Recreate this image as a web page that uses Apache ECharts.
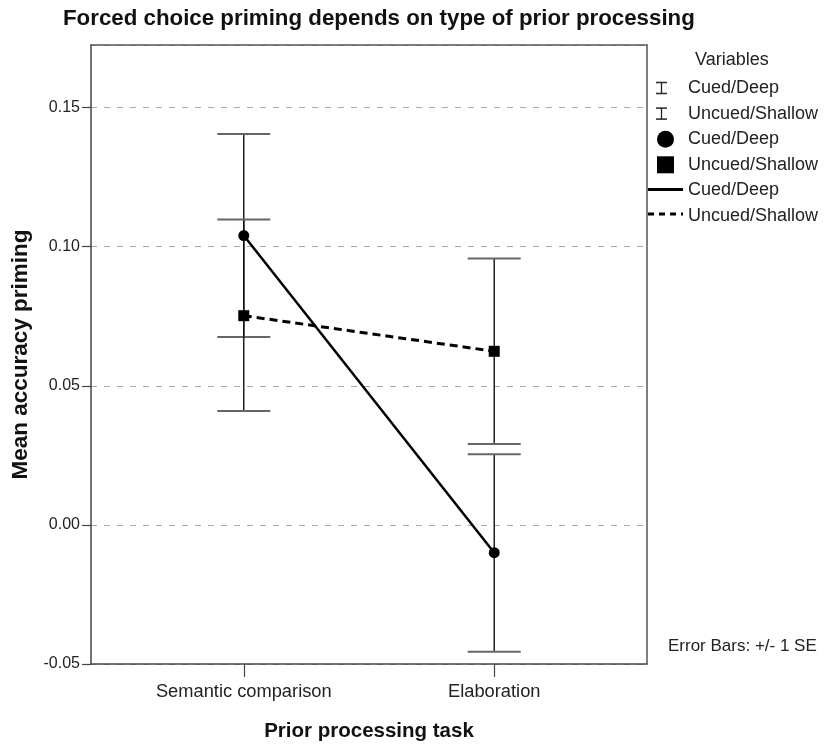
<!DOCTYPE html>
<html>
<head>
<meta charset="utf-8">
<script src="https://cdn.jsdelivr.net/npm/echarts@6/dist/echarts.min.js"></script>
<style>
html,body{margin:0;padding:0;background:#fff;}
#chart{width:830px;height:747px;}
</style>
</head>
<body>
<div id="chart"></div>
<script>
const categories = ['Semantic comparison', 'Elaboration'];
const cuedMean = [0.1040, -0.0100];
const cuedLower = [0.0675, -0.0456];
const cuedUpper = [0.1405, 0.0254];
const uncuedMean = [0.0752, 0.0624];
const uncuedLower = [0.0409, 0.0291];
const uncuedUpper = [0.1098, 0.0958];
const yTickLabels = ['-0.05', '0.00', '0.05', '0.10', '0.15'];
const legendTitle = 'Variables';
const legendLabels = ['Cued/Deep', 'Uncued/Shallow', 'Cued/Deep', 'Uncued/Shallow', 'Cued/Deep', 'Uncued/Shallow'];
const noteText = 'Error Bars: +/- 1 SE';

const FONT = "'Liberation Sans', Arial, Helvetica, sans-serif";

const chart = echarts.init(document.getElementById('chart'), null, {renderer: 'canvas'});

function errData(lo, hi) {
  return categories.map((c, i) => [i, lo[i], hi[i]]);
}
function errRender(params, api) {
  const x = api.value(0);
  const lo = api.coord([x, api.value(1)]);
  const hi = api.coord([x, api.value(2)]);
  const hw = 26.5;
  return {
    type: 'group',
    children: [
      {type: 'line', shape: {x1: lo[0], y1: lo[1], x2: hi[0], y2: hi[1]}, style: {stroke: '#111', lineWidth: 1.4}},
      {type: 'line', shape: {x1: lo[0] - hw, y1: lo[1], x2: lo[0] + hw, y2: lo[1]}, style: {stroke: '#666', lineWidth: 2}},
      {type: 'line', shape: {x1: hi[0] - hw, y1: hi[1], x2: hi[0] + hw, y2: hi[1]}, style: {stroke: '#666', lineWidth: 2}}
    ]
  };
}

const legendX = 688, rowY0 = 88, rowDY = 25.6;
const legendGraphics = [
  {type: 'text', x: 695, y: 60, style: {text: legendTitle, font: '18px ' + FONT, fill: '#222', textVerticalAlign: 'middle'}}
];
legendLabels.forEach((t, i) => {
  legendGraphics.push({type: 'text', x: legendX, y: rowY0 + i * rowDY, style: {text: t, font: '18px ' + FONT, fill: '#222', textVerticalAlign: 'middle'}});
});
[0, 1].forEach(i => {
  const cy = rowY0 + i * rowDY;
  legendGraphics.push({type: 'line', shape: {x1: 656, y1: cy - 5.5, x2: 667, y2: cy - 5.5}, style: {stroke: '#333', lineWidth: 1.6}});
  legendGraphics.push({type: 'line', shape: {x1: 656, y1: cy + 5.5, x2: 667, y2: cy + 5.5}, style: {stroke: '#333', lineWidth: 1.6}});
  legendGraphics.push({type: 'line', shape: {x1: 661.5, y1: cy - 5.5, x2: 661.5, y2: cy + 5.5}, style: {stroke: '#222', lineWidth: 1.3}});
});
legendGraphics.push({type: 'circle', shape: {cx: 665.5, cy: rowY0 + 2 * rowDY, r: 8.5}, style: {fill: '#000'}});
legendGraphics.push({type: 'rect', shape: {x: 657, y: rowY0 + 3 * rowDY - 8.5, width: 17, height: 17}, style: {fill: '#000'}});
legendGraphics.push({type: 'line', shape: {x1: 648, y1: rowY0 + 4 * rowDY - 1, x2: 683, y2: rowY0 + 4 * rowDY - 1}, style: {stroke: '#000', lineWidth: 3}});
legendGraphics.push({type: 'line', shape: {x1: 648, y1: rowY0 + 5 * rowDY - 2, x2: 683, y2: rowY0 + 5 * rowDY - 2}, style: {stroke: '#000', lineWidth: 3, lineDash: [6, 5]}});
legendGraphics.push({type: 'text', x: 668, y: 646, style: {text: noteText, font: '17px ' + FONT, fill: '#222', textVerticalAlign: 'middle'}});

const option = {
  backgroundColor: '#fff',
  animation: false,
  title: {
    text: 'Forced choice priming depends on type of prior processing',
    left: 63, top: 8, padding: 0,
    textStyle: {fontFamily: FONT, fontSize: 22.3, fontWeight: 'bold', color: '#111'}
  },
  grid: {left: 91, right: 183, top: 45, bottom: 80, containLabel: false},
  xAxis: [{
    type: 'value', min: -0.61, max: 1.61,
    name: 'Prior processing task', nameLocation: 'middle', nameGap: 57,
    nameTextStyle: {fontFamily: FONT, fontSize: 20.5, fontWeight: 'bold', color: '#111'},
    axisLine: {show: true, onZero: false, lineStyle: {color: '#444', width: 1.5}},
    axisTick: {show: true, length: 13, lineStyle: {color: '#444', width: 1.2}, customValues: [0, 1]},
    axisLabel: {customValues: [0, 1], margin: 19, fontFamily: FONT, fontSize: 18.3, color: '#222',
      formatter: v => categories[Math.round(v)]},
    splitLine: {show: false}
  }, {
    type: 'value', position: 'top', min: -0.61, max: 1.61,
    axisLine: {show: true, onZero: false, lineStyle: {color: '#555', width: 1.5}},
    axisTick: {show: false}, axisLabel: {show: false}, splitLine: {show: false}
  }],
  yAxis: [{
    type: 'value', min: -0.05, max: 0.1725, interval: 0.05,
    name: 'Mean accuracy priming', nameLocation: 'middle', nameGap: 52,
    nameTextStyle: {fontFamily: FONT, fontSize: 22.5, fontWeight: 'bold', color: '#111'},
    axisLine: {show: true, onZero: false, lineStyle: {color: '#444', width: 1.5}},
    axisTick: {show: true, length: 9, lineStyle: {color: '#444', width: 1.2}},
    axisLabel: {margin: 11, fontFamily: FONT, fontSize: 16, color: '#222', showMaxLabel: false,
      formatter: v => { const i = Math.round((v + 0.05) / 0.05); return Math.abs(v - (-0.05 + i * 0.05)) < 1e-6 ? yTickLabels[i] : ''; }},
    splitLine: {show: true, lineStyle: {color: '#aaa', width: 1, type: [6, 7]}}
  }, {
    type: 'value', position: 'right', min: -0.05, max: 0.1725,
    axisLine: {show: true, onZero: false, lineStyle: {color: '#555', width: 1.5}},
    axisTick: {show: false}, axisLabel: {show: false}, splitLine: {show: false}
  }],
  graphic: legendGraphics,
  series: [
    {type: 'custom', name: 'Cued/Deep', renderItem: errRender, data: errData(cuedLower, cuedUpper), z: 2},
    {type: 'custom', name: 'Uncued/Shallow', renderItem: errRender, data: errData(uncuedLower, uncuedUpper), z: 2},
    {type: 'line', name: 'Cued/Deep', data: cuedMean.map((v, i) => [i, v]), symbol: 'circle', symbolSize: 11,
      itemStyle: {color: '#000'}, lineStyle: {color: '#000', width: 2.5, type: 'solid'}, z: 4},
    {type: 'line', name: 'Uncued/Shallow', data: uncuedMean.map((v, i) => [i, v]), symbol: 'rect', symbolSize: 11,
      itemStyle: {color: '#000'}, lineStyle: {color: '#000', width: 3, type: [8, 5]}, z: 3}
  ]
};
chart.setOption(option);
</script>
</body>
</html>
